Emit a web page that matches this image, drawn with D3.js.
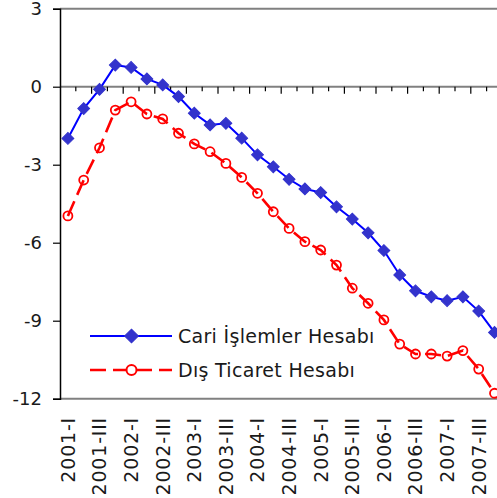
<!DOCTYPE html>
<html><head><meta charset="utf-8">
<script src="https://cdn.jsdelivr.net/npm/d3@7"></script>
<style>body{margin:0;background:#fff;overflow:hidden} text{font-family:"DejaVu Sans",sans-serif;fill:#1a1a1a}</style>
</head><body><svg id="c" width="497" height="498"></svg>
<script>
const quarters = [];
const years = [2001,2002,2003,2004,2005,2006,2007];
const romans = ["I","II","III","IV"];
years.forEach(y => romans.forEach(r => quarters.push(y + "-" + r)));

const cari = [-1.99,-0.84,-0.10,0.83,0.74,0.30,0.07,-0.38,-1.02,-1.47,-1.41,-1.98,
  -2.62,-3.08,-3.56,-3.93,-4.07,-4.62,-5.09,-5.62,-6.30,-7.24,-7.85,-8.08,-8.23,-8.08,-8.63,-9.45];
const dis = [-4.97,-3.59,-2.35,-0.90,-0.58,-1.05,-1.24,-1.79,-2.20,-2.50,-2.95,-3.49,
  -4.10,-4.81,-5.45,-5.96,-6.28,-6.86,-7.75,-8.33,-8.97,-9.90,-10.28,-10.28,-10.36,-10.15,-10.86,-11.79];
const yTicks = [3,0,-3,-6,-9,-12];
const seriesNames = ["Cari İşlemler Hesabı","Dış Ticaret Hesabı"];

const svg = d3.select("#c");
const L = 60, R = 502.4, T = 8.7, B = 398.7;
const x = d3.scaleBand().domain(quarters).range([L, R]).padding(0);
const cx = q => x(q) + x.bandwidth()/2;
const y = d3.scaleLinear().domain([-12,3]).range([B, T]);

svg.append("rect").attr("width",497).attr("height",498).attr("fill","#fff");

// plot border (top/bottom)
svg.append("line").attr("x1",L).attr("x2",R).attr("y1",T).attr("y2",T).attr("stroke","#808080").attr("stroke-width",2);
svg.append("line").attr("x1",L).attr("x2",R).attr("y1",B).attr("y2",B).attr("stroke","#808080").attr("stroke-width",2);

// zero axis with ticks
const y0 = y(0);
svg.append("line").attr("x1",L).attr("x2",R).attr("y1",y0).attr("y2",y0).attr("stroke","#808080").attr("stroke-width",2);
d3.range(1, quarters.length).forEach(k => {
  const xx = L + k*x.bandwidth();
  const major = k % 2 === 0;
  svg.append("line").attr("x1",xx).attr("x2",xx).attr("y1",y0).attr("y2",y0 + (major?7:4.5))
    .attr("stroke","#000").attr("stroke-width",1.2);
});

// left axis
const yAxis = d3.axisLeft(y).tickValues(yTicks).tickSize(7).tickFormat(d3.format("d"));
const ga = svg.append("g").attr("transform",`translate(${L},0)`).call(yAxis);
ga.select(".domain").attr("stroke","#000").attr("stroke-width",1.5);
ga.selectAll(".tick line").attr("stroke","#000").attr("stroke-width",1.2);
ga.selectAll(".tick text").attr("font-size",18).attr("x",-18).attr("font-family","DejaVu Sans").attr("fill","#1a1a1a")
  .text(d => d < 0 ? "-" + Math.abs(d) : d);

// x labels
quarters.forEach((q,i) => {
  if (i % 2 !== 0) return;
  svg.append("text").attr("transform",`translate(${cx(q)},417) rotate(-90)`)
    .attr("text-anchor","end").attr("dy","0.36em").attr("font-size",19).attr("letter-spacing",0.8).text(q);
});

// lines
const line = d3.line().x((d,i) => cx(quarters[i])).y(d => y(d));
svg.append("path").datum(dis).attr("d",line).attr("fill","none").attr("stroke","#ff0000")
  .attr("stroke-width",2.6).attr("stroke-dasharray","16,7");
svg.append("path").datum(cari).attr("d",line).attr("fill","none").attr("stroke","#0000ff").attr("stroke-width",2);

const diamond = d3.symbol().type(d3.symbolSquare).size(70);
svg.append("g").selectAll("path").data(cari).join("path")
  .attr("d",diamond()).attr("transform",(d,i) => `translate(${cx(quarters[i])},${y(d)}) rotate(45)`)
  .attr("fill","#3333cc").attr("stroke","#3333cc").attr("stroke-width",1);
svg.append("g").selectAll("circle").data(dis).join("circle")
  .attr("cx",(d,i) => cx(quarters[i])).attr("cy",d => y(d)).attr("r",4.5)
  .attr("fill","none").attr("stroke","#ff0000").attr("stroke-width",1.8);

// legend
const lg = svg.append("g");
const ly = [336, 370];
lg.append("line").attr("x1",90).attr("x2",172).attr("y1",ly[0]).attr("y2",ly[0]).attr("stroke","#0000ff").attr("stroke-width",2);
lg.append("path").attr("d",d3.symbol().type(d3.symbolSquare).size(95)()).attr("transform",`translate(131.5,${ly[0]}) rotate(45)`)
  .attr("fill","#3333cc").attr("stroke","#3333cc");
lg.append("line").attr("x1",90).attr("x2",172).attr("y1",ly[1]).attr("y2",ly[1]).attr("stroke","#ff0000").attr("stroke-width",2.6)
  .attr("stroke-dasharray","16,7");
lg.append("circle").attr("cx",131.5).attr("cy",ly[1]).attr("r",5).attr("fill","#fff").attr("stroke","#ff0000").attr("stroke-width",2);
seriesNames.forEach((n,i) => {
  lg.append("text").attr("x",178).attr("y",ly[i]).attr("dy","0.36em").attr("font-size",19).attr("letter-spacing",0.3).text(n);
});
</script></body></html>
